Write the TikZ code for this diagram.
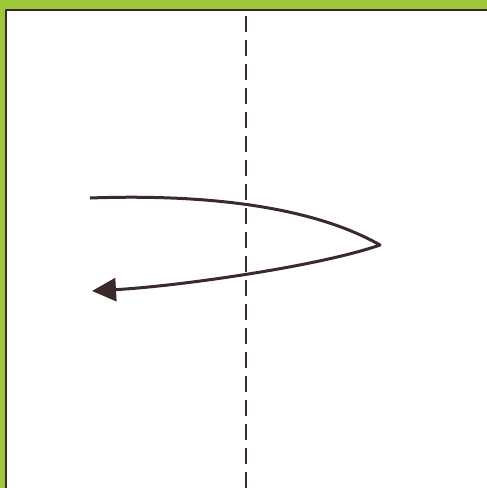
\documentclass[tikz,border=0pt]{standalone}
\usepackage{tikz}
\usetikzlibrary{arrows.meta}
\definecolor{leaf}{RGB}{158,200,58}
\definecolor{ink}{RGB}{58,42,44}

\begin{document}
\begin{tikzpicture}[x=1pt,y=-1pt,line join=round,
    foldline/.style={ink,line width=2.6pt,dash pattern=on 16pt off 8pt},
    turn/.style={ink,line width=3pt,-{Triangle[length=24pt,width=23pt]}}]
    \useasboundingbox (0,0) rectangle (487,488);
    \fill[leaf] (0,0) rectangle (487,488);
    \fill[white] (6,10) rectangle (487,488);
    \draw[ink,line width=2pt] (6,488) -- (6,10) -- (487,10);
    \draw[foldline] (246,16) -- (246,488);
    \coordinate (start) at (90,198);
    \coordinate (tip) at (380,245);
    \coordinate (end) at (92,291);
    \draw[turn] (start)
      .. controls (200,194) and (310,205) .. (tip)
      .. controls (320,266) and (180,286) .. (end);
  \end{tikzpicture}
\end{document}
